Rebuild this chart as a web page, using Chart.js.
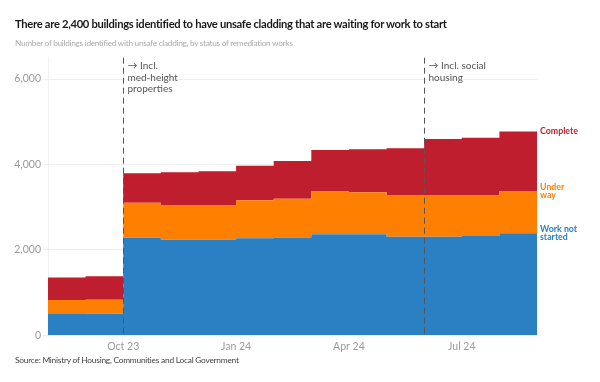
<!DOCTYPE html>
<html>
<head>
<meta charset="utf-8">
<script src="https://cdn.jsdelivr.net/npm/chart.js@4.4.1/dist/chart.umd.min.js"></script>
<style>
  html, body { margin: 0; padding: 0; background: #fff; }
  #wrap { position: relative; width: 600px; height: 382px; overflow: hidden; font-family: Lato, sans-serif; }
  #chart-box { position: absolute; left: 0; top: 0; width: 600px; height: 382px; }
  .txt { position: absolute; left: 15px; white-space: nowrap; }
  #title { top: 17px; font-size: 11.2px; font-weight: 700; color: #1a1a1a; letter-spacing: -0.3px; }
  #subtitle { top: 38px; font-size: 8.3px; color: #ababab; letter-spacing: -0.3px; }
  #source { top: 355px; font-size: 8.4px; color: #444; letter-spacing: -0.25px; }
</style>
</head>
<body>
<div id="wrap">
  <div id="chart-box"><canvas id="cladding-chart"></canvas></div>
  <div class="txt" id="title">There are 2,400 buildings identified to have unsafe cladding that are waiting for work to start</div>
  <div class="txt" id="subtitle">Number of buildings identified with unsafe cladding, by status of remediation works</div>
  <div class="txt" id="source">Source: Ministry of Housing, Communities and Local Government</div>
</div>
<script>
// monthly snapshots, Aug 23 .. Aug 24
const months = ['Aug 23', 'Sep 23', 'Oct 23', 'Nov 23', 'Dec 23', 'Jan 24', 'Feb 24',
    'Mar 24', 'Apr 24', 'May 24', 'Jun 24', 'Jul 24', 'Aug 24'];
const notStarted = [500, 505, 2285, 2240, 2240, 2270, 2290, 2365, 2365, 2310, 2310, 2325, 2390];
const underWay = [325, 325, 820, 810, 810, 890, 905, 1000, 985, 975, 975, 960, 990];
const complete = [530, 550, 690, 765, 790, 810, 885, 975, 1005, 1095, 1310, 1340, 1390];
const xTickMonths = ['Oct 23', 'Jan 24', 'Apr 24', 'Jul 24'];
const yTicks = [0, 2000, 4000, 6000];
const notes = [
    { month: 'Oct 23', lines: ['\u2192 Incl.', 'med-height', 'properties'] },
    { month: 'Jun 24', lines: ['\u2192 Incl. social', 'housing'] },
];

const COLORS = {
    notStarted: '#2b7fc3',
    underWay: '#ff7f00',
    complete: '#be1e2d',
};

// each month is held until the next one, so repeat the last value to close the final step
function stepPoints(values) {
    const pts = values.map((v, i) => ({ x: i, y: v }));
    pts.push({ x: values.length, y: values[values.length - 1] });
    return pts;
}

const endLabels = [
    { lines: ['Work not', 'started'], color: COLORS.notStarted, upTo: 0 },
    { lines: ['Under', 'way'], color: COLORS.underWay, upTo: 1 },
    { lines: ['Complete'], color: COLORS.complete, upTo: 2 },
];

const overlayPlugin = {
    id: 'overlay',
    afterDatasetsDraw(chart) {
        const { ctx, chartArea, scales } = chart;
        const x = scales.x;
        const y = scales.y;

        // dashed notes
        ctx.save();
        notes.forEach((n) => {
            const px = Math.round(x.getPixelForValue(months.indexOf(n.month))) + 0.5;
            ctx.strokeStyle = '#555';
            ctx.lineWidth = 1;
            ctx.setLineDash([6, 4]);
            ctx.beginPath();
            ctx.moveTo(px, chartArea.top);
            ctx.lineTo(px, chartArea.bottom);
            ctx.stroke();
            ctx.setLineDash([]);
            ctx.fillStyle = '#555';
            ctx.font = '10px Lato, sans-serif';
            ctx.textBaseline = 'middle';
            ctx.textAlign = 'left';
            n.lines.forEach((line, i) => {
                ctx.fillText(line, px + 4, chartArea.top + 8.5 + i * 11.3);
            });
        });

        // series labels at the right end
        const last = months.length - 1;
        const series = [notStarted, underWay, complete];
        endLabels.forEach((lab) => {
            let total = 0;
            for (let s = 0; s <= lab.upTo; s++) total += series[s][last];
            const py = y.getPixelForValue(total);
            ctx.fillStyle = lab.color;
            ctx.font = 'bold 8.8px Lato, sans-serif';
            ctx.textAlign = 'left';
            ctx.textBaseline = 'middle';
            const h = 8.5;
            const start = py - ((lab.lines.length - 1) * h) / 2;
            lab.lines.forEach((line, i) => {
                ctx.fillText(line, chartArea.right + 3, start + i * h);
            });
        });
        ctx.restore();
    },
};

const ctx = document.getElementById('cladding-chart').getContext('2d');
new Chart(ctx, {
    type: 'line',
    data: {
        datasets: [
            {
                label: 'Work not started',
                data: stepPoints(notStarted),
                backgroundColor: COLORS.notStarted,
                borderColor: 'transparent',
                borderWidth: 0,
                fill: 'origin',
            },
            {
                label: 'Under way',
                data: stepPoints(underWay),
                backgroundColor: COLORS.underWay,
                borderColor: 'transparent',
                borderWidth: 0,
                fill: '-1',
            },
            {
                label: 'Complete',
                data: stepPoints(complete),
                backgroundColor: COLORS.complete,
                borderColor: 'transparent',
                borderWidth: 0,
                fill: '-1',
            },
        ],
    },
    options: {
        responsive: true,
        maintainAspectRatio: false,
        animation: false,
        elements: {
            line: { stepped: true, tension: 0 },
            point: { radius: 0, hoverRadius: 0 },
        },
        layout: {
            padding: { left: 0, right: 63, top: 57.7, bottom: 21.7 },
        },
        plugins: {
            legend: { display: false },
            tooltip: { enabled: false },
        },
        scales: {
            x: {
                type: 'linear',
                min: 0,
                max: months.length,
                grid: { display: false, drawTicks: false },
                border: { display: false },
                afterBuildTicks: (axis) => {
                    axis.ticks = xTickMonths.map((m) => ({ value: months.indexOf(m) }));
                },
                afterFit: (axis) => { axis.height = 25; },
                ticks: {
                    padding: 5,
                    maxRotation: 0,
                    autoSkip: false,
                    color: '#9a9a9a',
                    font: { family: 'Lato, sans-serif', size: 10.5 },
                    callback: (v) => months[v],
                },
            },
            y: {
                stacked: true,
                min: 0,
                max: 6500,
                afterBuildTicks: (axis) => {
                    axis.ticks = yTicks.map((v) => ({ value: v }));
                },
                afterFit: (axis) => { axis.width = 48; },
                grid: { color: '#efefef', tickLength: 5, tickColor: '#efefef' },
                border: { display: true, color: '#f2f2f2' },
                ticks: {
                    padding: 2,
                    color: '#9a9a9a',
                    font: { family: 'Lato, sans-serif', size: 10.5 },
                    callback: (v) => v.toLocaleString('en-GB'),
                },
            },
        },
    },
    plugins: [overlayPlugin],
});
</script>
</body>
</html>
